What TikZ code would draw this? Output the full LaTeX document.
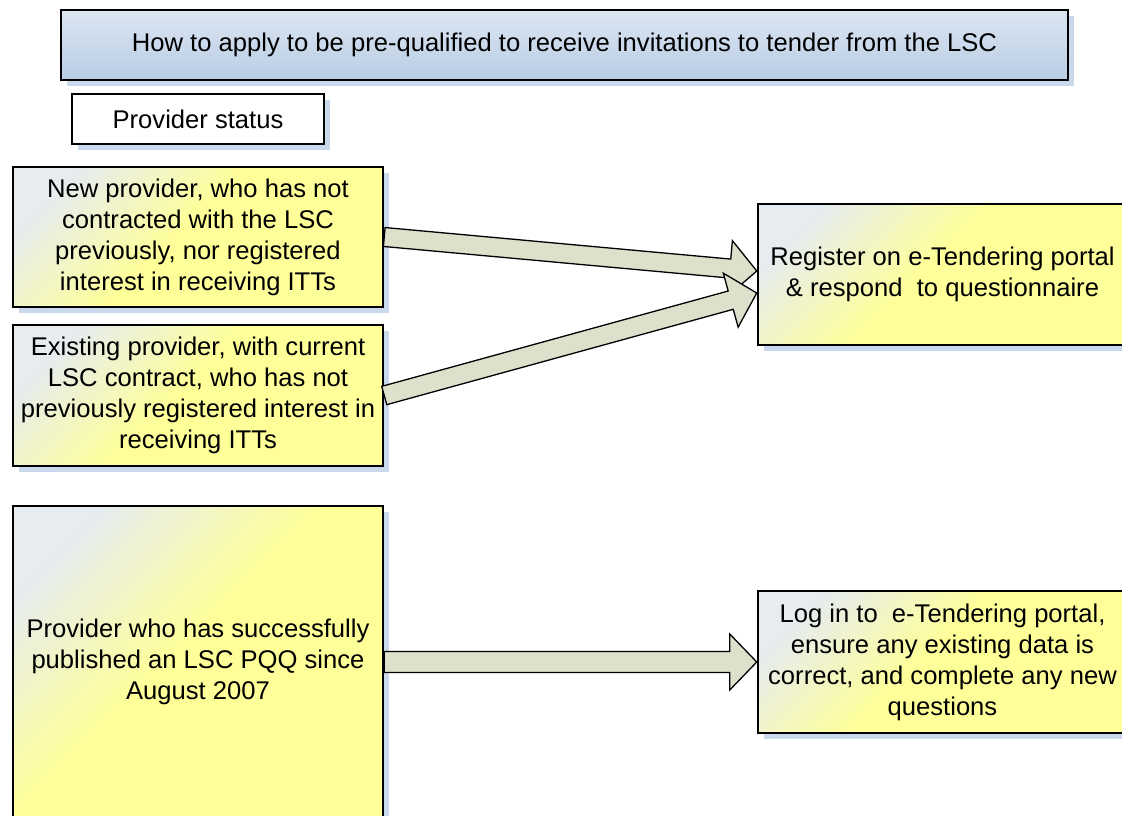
\documentclass[tikz,border=0pt]{standalone}
\usepackage{fontspec}
\setmainfont{Liberation Sans}
\usetikzlibrary{calc,shadows}
\definecolor{boxlight}{HTML}{E6ECEF}
\definecolor{boxyel}{HTML}{FFFF99}
\definecolor{titletop}{HTML}{DCE6F2}
\definecolor{titlebot}{HTML}{B9CDE5}
\definecolor{arrfill}{HTML}{DDE0CB}
\definecolor{shadowc}{HTML}{CAD8EB}
\pgfdeclarehorizontalshading{yelshade}{100bp}{color(0bp)=(boxlight); color(24bp)=(boxlight); color(47bp)=(boxyel); color(100bp)=(boxyel)}
\tikzset{
  box/.style={draw=black, line width=2.5pt, rectangle, align=center, inner sep=0pt,
    font=\fontsize{25.6pt}{31pt}\selectfont,
    drop shadow={shadow xshift=6pt, shadow yshift=-6pt, fill=shadowc, opacity=1}},
  yelbox/.style={box, shading=yelshade, shading angle=-45},
  titlebox/.style={box, top color=titletop, bottom color=titlebot},
  whitebox/.style={box, fill=white},
  blockarrow/.style={draw=black, line width=1.3pt, fill=arrfill, line join=miter}
}
\newcommand{\blockarr}[4]{%
  \coordinate (#1hb) at ($(#2)!27pt!(#1)$);
  \draw[blockarrow] ($(#1)!#3!90:(#2)$) -- ($(#1hb)!#3!90:(#2)$) -- ($(#1hb)!#4!90:(#2)$) -- (#2)
    -- ($(#1hb)!#4!-90:(#2)$) -- ($(#1hb)!#3!-90:(#2)$) -- ($(#1)!#3!-90:(#2)$) -- cycle;}
\begin{document}
\begin{tikzpicture}[x=1pt,y=-1pt]
\useasboundingbox (0,0) rectangle (1122,816);
\node[titlebox, minimum width=1007pt, minimum height=70pt] (title) at (564.5,45)
  {How to apply to be pre-qualified to receive invitations to tender from the LSC};
\node[whitebox, minimum width=252pt, minimum height=50pt] (status) at (198,119) {Provider status};
\node[yelbox, minimum width=370pt, minimum height=140pt] (A) at (198,237)
  {New provider, who has not\\contracted with the LSC\\previously, nor registered\\interest in receiving ITTs};
\node[yelbox, minimum width=370pt, minimum height=141pt] (B) at (198,395.5)
  {Existing provider, with current\\LSC contract, who has not\\previously registered interest in\\receiving ITTs};
\node[yelbox, minimum width=370pt, minimum height=312pt] (C) at (198,662)
  {Provider who has successfully\\published an LSC PQQ since\\August 2007};
\node[yelbox, minimum width=369pt, minimum height=141pt] (D) at (942.5,274.5)
  {Register on e-Tendering portal\\\& respond~ to questionnaire};
\node[yelbox, minimum width=369pt, minimum height=142pt] (E) at (942.5,662)
  {Log in to~ e-Tendering portal,\\ensure any existing data is\\correct, and complete any new\\questions};
\coordinate (s1) at (A.east);
\coordinate (t1) at ($(D.west)+(0,-3.5)$);
\coordinate (s2) at (B.east);
\coordinate (t2) at ($(D.west)+(0,18.5)$);
\coordinate (s3) at (C.east);
\coordinate (t3) at (E.west);
\blockarr{s1}{t1}{9.5pt}{28pt}
\blockarr{s2}{t2}{9.5pt}{28pt}
\blockarr{s3}{t3}{10.5pt}{28pt}
\end{tikzpicture}
\end{document}
